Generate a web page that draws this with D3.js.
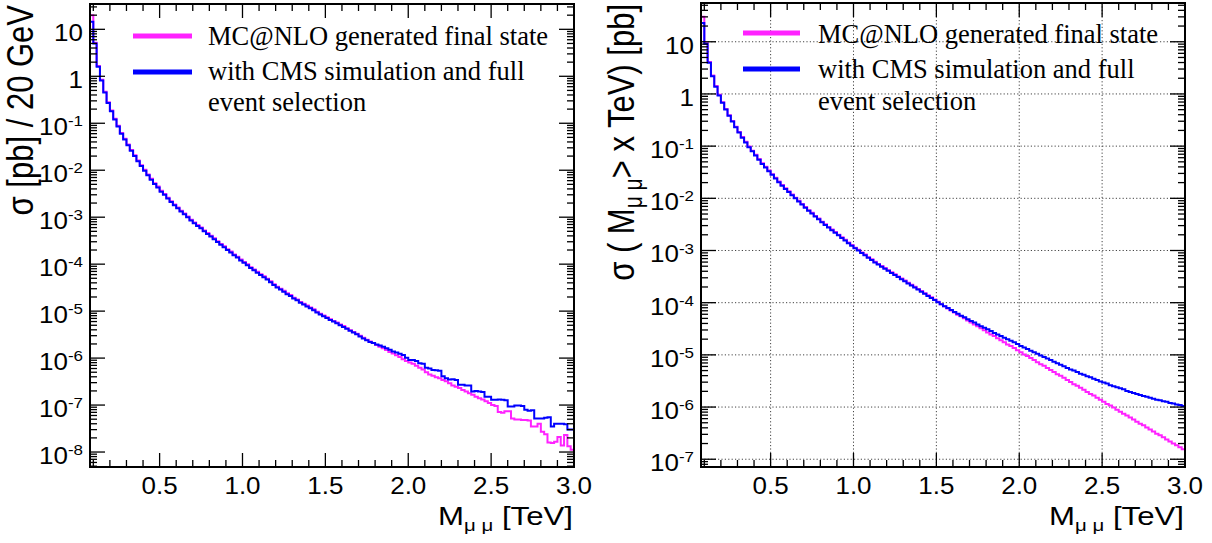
<!DOCTYPE html>
<html>
<head>
<meta charset="utf-8">
<script src="https://cdn.jsdelivr.net/npm/d3@7"></script>
<style>
  body { margin: 0; background: #fff; }
  svg { display: block; }
</style>
</head>
<body>
<svg id="chart" width="1212" height="543"></svg>
<script>
// Dimuon invariant mass, 20 GeV bins from 0.08 to 3.00 TeV
const massEdgesTeV = d3.range(147).map(i => +(0.08 + 0.02 * i).toFixed(2));

const xTickValues = [0.5, 1.0, 1.5, 2.0, 2.5, 3.0];
const xTickLabels = ["0.5", "1.0", "1.5", "2.0", "2.5", "3.0"];

const leftDecades = [-8, -7, -6, -5, -4, -3, -2, -1, 0, 1];
const rightDecades = [-7, -6, -5, -4, -3, -2, -1, 0, 1];

const legendLabels = ["MC@NLO generated final state", "with CMS simulation and full", "event selection"];

// dσ/dM per 20 GeV bin [pb] — MC@NLO generated final state
const diffGenerated = [
  20, 5.2, 1.66, 0.84, 0.47, 0.28, 0.187, 0.125, 0.088, 0.062,
  0.047, 0.0354, 0.027, 0.0208, 0.0161, 0.0128, 0.0102, 0.0081, 0.0066, 0.0053,
  0.0045, 0.00364, 0.00312, 0.0026, 0.00218, 0.00187, 0.00161, 0.00137, 0.0012, 1.04e-3,
  8.8e-4, 7.7e-4, 6.8e-4, 6.0e-4, 5.2e-4, 4.6e-4, 4.05e-4, 3.54e-4, 3.07e-4, 2.7e-4,
  2.4e-4, 2.08e-4, 1.85e-4, 1.61e-4, 1.44e-4, 1.25e-4, 1.11e-4, 9.9e-5, 8.6e-5, 7.7e-5,
  6.9e-5, 6.1e-5, 5.5e-5, 4.9e-5, 4.3e-5, 3.75e-5, 3.3e-5, 3.0e-5, 2.7e-5, 2.4e-5,
  2.2e-5, 1.93e-5, 1.77e-5, 1.56e-5, 1.43e-5, 1.31e-5, 1.2e-5, 1.09e-5, 9.7e-6, 8.8e-6,
  8.1e-6, 7.4e-6, 6.7e-6, 6.2e-6, 5.7e-6, 5.2e-6, 4.8e-6, 4.3e-6, 3.9e-6, 3.6e-6,
  3.3e-6, 3.0e-6, 2.7e-6, 2.45e-6, 2.25e-6, 2.1e-6, 1.9e-6, 1.74e-6, 1.62e-6, 1.48e-6,
  1.35e-6, 1.26e-6, 1.15e-6, 1.05e-6, 9.5e-7, 8.7e-7, 8.1e-7, 7.6e-7, 6.9e-7, 6.2e-7,
  5.75e-7, 5.0e-7, 4.5e-7, 4.2e-7, 3.9e-7, 3.7e-7, 3.4e-7, 3.2e-7, 2.9e-7, 2.6e-7,
  2.45e-7, 2.3e-7, 2.1e-7, 1.95e-7, 1.78e-7, 1.66e-7, 1.5e-7, 1.4e-7, 1.32e-7, 1.2e-7,
  1.1e-7, 1.0e-7, 9.5e-8, 7.1e-8, 6.9e-8, 7.4e-8, 7.4e-8, 5.2e-8, 4.9e-8, 4.9e-8,
  4.8e-8, 4.8e-8, 4.7e-8, 3.5e-8, 3.5e-8, 4.0e-8, 2.7e-8, 2.4e-8, 1.6e-8, 1.55e-8,
  1.66e-8, 2.1e-8, 1.38e-8, 2.3e-8, 1.32e-8, 1.12e-8
];

// dσ/dM per 20 GeV bin [pb] — after CMS simulation and full event selection
const diffSelected = [
  14.5, 5.0, 1.6, 0.81, 0.45, 0.27, 0.18, 0.12, 0.085, 0.060,
  0.045, 0.034, 0.026, 0.020, 0.0155, 0.0123, 0.0098, 0.0078, 0.0063, 0.0051,
  0.0043, 0.0035, 0.0030, 0.0025, 0.0021, 0.0018, 0.00155, 0.00132, 0.00115, 1.0e-3,
  8.5e-4, 7.4e-4, 6.5e-4, 5.8e-4, 5.0e-4, 4.4e-4, 3.9e-4, 3.4e-4, 2.95e-4, 2.6e-4,
  2.3e-4, 2.0e-4, 1.78e-4, 1.55e-4, 1.38e-4, 1.2e-4, 1.07e-4, 9.5e-5, 8.3e-5, 7.4e-5,
  6.6e-5, 5.9e-5, 5.25e-5, 4.7e-5, 4.1e-5, 3.6e-5, 3.2e-5, 2.9e-5, 2.6e-5, 2.3e-5,
  2.1e-5, 1.86e-5, 1.7e-5, 1.5e-5, 1.38e-5, 1.26e-5, 1.15e-5, 1.05e-5, 9.3e-6, 8.5e-6,
  7.8e-6, 7.1e-6, 6.5e-6, 6.0e-6, 5.5e-6, 5.0e-6, 4.6e-6, 4.2e-6, 3.8e-6, 3.5e-6,
  3.2e-6, 2.9e-6, 2.6e-6, 2.4e-6, 2.2e-6, 2.1e-6, 1.95e-6, 1.86e-6, 1.74e-6, 1.62e-6,
  1.51e-6, 1.38e-6, 1.32e-6, 1.23e-6, 1.17e-6, 1.02e-6, 9.1e-7, 9.1e-7, 8.7e-7, 7.8e-7,
  7.6e-7, 6.2e-7, 6.0e-7, 5.6e-7, 5.5e-7, 5.4e-7, 4.1e-7, 3.7e-7, 3.5e-7, 3.55e-7,
  3.4e-7, 2.7e-7, 2.7e-7, 2.6e-7, 2.6e-7, 1.95e-7, 2.0e-7, 1.95e-7, 1.9e-7, 1.5e-7,
  1.5e-7, 1.3e-7, 1.3e-7, 1.32e-7, 1.3e-7, 1.26e-7, 9.3e-8, 9.3e-8, 9.8e-8, 9.8e-8,
  9.5e-8, 7.9e-8, 7.6e-8, 7.8e-8, 5.2e-8, 5.2e-8, 5.2e-8, 5.4e-8, 5.5e-8, 3.5e-8,
  4.0e-8, 4.0e-8, 4.0e-8, 3.9e-8, 3.0e-8, 3.0e-8
];

// σ(M > x) [pb] — MC@NLO generated final state
const cumGenerated = [
  30.2, 9.39, 4.10, 2.26, 1.42, 0.961, 0.696, 0.516, 0.391, 0.304,
  0.236, 0.187, 0.149, 0.121, 0.0984, 0.0818, 0.0681, 0.0567, 0.0471, 0.0401,
  0.0341, 0.0290, 0.0247, 0.0210, 0.0179, 0.0156, 0.0136, 0.0118, 0.0103, 8.97e-3,
  7.82e-3, 6.81e-3, 5.92e-3, 5.28e-3, 4.60e-3, 4.10e-3, 3.57e-3, 3.18e-3, 2.83e-3, 2.52e-3,
  2.26e-3, 2.01e-3, 1.79e-3, 1.60e-3, 1.42e-3, 1.27e-3, 1.13e-3, 1.03e-3, 9.18e-4, 8.37e-4,
  7.46e-4, 6.81e-4, 6.07e-4, 5.53e-4, 5.05e-4, 4.60e-4, 4.19e-4, 3.83e-4, 3.49e-4, 3.18e-4,
  2.90e-4, 2.65e-4, 2.41e-4, 2.20e-4, 2.01e-4, 1.83e-4, 1.67e-4, 1.52e-4, 1.39e-4, 1.27e-4,
  1.15e-4, 1.04e-4, 9.33e-5, 8.51e-5, 7.76e-5, 7.08e-5, 6.46e-5, 5.89e-5, 5.50e-5, 5.01e-5,
  4.57e-5, 4.17e-5, 3.80e-5, 3.55e-5, 3.24e-5, 2.95e-5, 2.69e-5, 2.45e-5, 2.29e-5, 2.09e-5,
  1.91e-5, 1.74e-5, 1.58e-5, 1.48e-5, 1.35e-5, 1.23e-5, 1.12e-5, 1.02e-5, 9.55e-6, 8.71e-6,
  7.94e-6, 7.24e-6, 6.61e-6, 6.17e-6, 5.62e-6, 5.13e-6, 4.68e-6, 4.27e-6, 3.98e-6, 3.63e-6,
  3.31e-6, 3.02e-6, 2.75e-6, 2.57e-6, 2.34e-6, 2.14e-6, 1.95e-6, 1.78e-6, 1.66e-6, 1.51e-6,
  1.38e-6, 1.26e-6, 1.15e-6, 1.07e-6, 9.77e-7, 8.91e-7, 8.13e-7, 7.41e-7, 6.92e-7, 6.31e-7,
  5.75e-7, 5.25e-7, 4.79e-7, 4.47e-7, 4.07e-7, 3.72e-7, 3.39e-7, 3.09e-7, 2.88e-7, 2.63e-7,
  2.40e-7, 2.19e-7, 2.00e-7, 1.86e-7, 1.70e-7, 1.55e-7
];

// σ(M > x) [pb] — after CMS simulation and full event selection
const cumSelected = [
  22.9, 9.12, 3.98, 2.19, 1.38, 0.933, 0.676, 0.501, 0.380, 0.295,
  0.229, 0.182, 0.145, 0.117, 0.0955, 0.0794, 0.0661, 0.0550, 0.0457, 0.0389,
  0.0331, 0.0282, 0.0240, 0.0204, 0.0174, 0.0151, 0.0132, 0.0115, 0.0100, 8.71e-3,
  7.59e-3, 6.61e-3, 5.75e-3, 5.13e-3, 4.47e-3, 3.98e-3, 3.47e-3, 3.09e-3, 2.75e-3, 2.45e-3,
  2.19e-3, 1.95e-3, 1.74e-3, 1.55e-3, 1.38e-3, 1.23e-3, 1.10e-3, 1.00e-3, 8.91e-4, 8.13e-4,
  7.24e-4, 6.61e-4, 5.89e-4, 5.37e-4, 4.90e-4, 4.47e-4, 4.07e-4, 3.72e-4, 3.39e-4, 3.09e-4,
  2.82e-4, 2.57e-4, 2.34e-4, 2.14e-4, 1.95e-4, 1.78e-4, 1.62e-4, 1.48e-4, 1.35e-4, 1.23e-4,
  1.12e-4, 1.02e-4, 9.33e-5, 8.51e-5, 7.94e-5, 7.24e-5, 6.61e-5, 6.17e-5, 5.62e-5, 5.25e-5,
  4.79e-5, 4.47e-5, 4.17e-5, 3.80e-5, 3.55e-5, 3.31e-5, 3.09e-5, 2.88e-5, 2.63e-5, 2.45e-5,
  2.29e-5, 2.14e-5, 2.00e-5, 1.86e-5, 1.74e-5, 1.62e-5, 1.48e-5, 1.38e-5, 1.29e-5, 1.20e-5,
  1.12e-5, 1.05e-5, 9.77e-6, 9.12e-6, 8.51e-6, 7.94e-6, 7.41e-6, 6.92e-6, 6.46e-6, 6.03e-6,
  5.62e-6, 5.25e-6, 5.01e-6, 4.68e-6, 4.37e-6, 4.17e-6, 3.89e-6, 3.72e-6, 3.47e-6, 3.31e-6,
  3.09e-6, 2.95e-6, 2.82e-6, 2.63e-6, 2.51e-6, 2.40e-6, 2.29e-6, 2.19e-6, 2.04e-6, 1.95e-6,
  1.86e-6, 1.78e-6, 1.70e-6, 1.62e-6, 1.58e-6, 1.51e-6, 1.45e-6, 1.38e-6, 1.35e-6, 1.29e-6,
  1.26e-6, 1.20e-6, 1.17e-6, 1.12e-6, 1.10e-6, 1.05e-6
];

const COLOR_GEN = "#ff22ff";
const COLOR_SEL = "#0000ff";
const SANS = "'Liberation Sans', Arial, Helvetica, sans-serif";
const SERIF = "'Liberation Serif', 'Times New Roman', serif";
const STRETCH = 1.13;   // horizontal widening of the axis lettering

const svg = d3.select("#chart");

const panels = [
  {
    key: "diff",
    box: { left: 90, right: 574, top: 4, bottom: 467 },
    yDomain: [4.8e-9, 34.6],
    decades: leftDecades,
    series: [diffGenerated, diffSelected],
    grid: false,
    titleX: 33,
    legend: { x1: 133, x2: 192, lineY: [36, 72], textX: 208, baselines: [45, 80, 111] },
    yTitle: [{ t: "σ [pb] / 20 GeV" }]
  },
  {
    key: "cum",
    box: { left: 701, right: 1185, top: 3, bottom: 467 },
    yDomain: [7.1e-8, 55.3],
    decades: rightDecades,
    series: [cumGenerated, cumSelected],
    grid: true,
    titleX: 634,
    legend: { x1: 743, x2: 800, lineY: [33, 69], textX: 818, baselines: [43, 78, 110] },
    yTitle: [{ t: "σ ( M" }, { t: "μ μ", sub: true }, { t: "> x TeV) [pb]" }]
  }
];

panels.forEach(p => {
  const b = p.box;
  const g = svg.append("g").attr("class", "panel-" + p.key);

  const x = d3.scaleLinear().domain([0.08, 3.0]).range([b.left, b.right]);
  const y = d3.scaleLog().domain(p.yDomain).range([b.bottom, b.top]);

  const clipId = "clip-" + p.key;
  g.append("clipPath").attr("id", clipId)
    .append("rect")
    .attr("x", b.left).attr("y", b.top)
    .attr("width", b.right - b.left).attr("height", b.bottom - b.top);

  // dotted grid at the labelled ticks
  if (p.grid) {
    const grid = g.append("g").attr("stroke", "#444").attr("stroke-width", 1)
      .attr("stroke-dasharray", "1.2 2.2");
    xTickValues.filter(v => v < 3.0).forEach(v => {
      grid.append("line").attr("x1", x(v)).attr("x2", x(v))
        .attr("y1", b.top).attr("y2", b.bottom);
    });
    p.decades.forEach(e => {
      const yy = y(Math.pow(10, e));
      grid.append("line").attr("x1", b.left).attr("x2", b.right)
        .attr("y1", yy).attr("y2", yy);
    });
  }

  // histograms as step outlines
  const line = d3.line()
    .x(d => x(d[0]))
    .y(d => y(d[1]))
    .curve(d3.curveStepAfter);
  const colors = [COLOR_GEN, COLOR_SEL];
  p.series.forEach((vals, si) => {
    const pts = massEdgesTeV.map((e, i) => [e, vals[Math.min(i, vals.length - 1)]]);
    g.append("path")
      .attr("clip-path", `url(#${clipId})`)
      .attr("d", line(pts))
      .attr("fill", "none")
      .attr("stroke", colors[si])
      .attr("stroke-width", 2)
      .attr("stroke-linejoin", "miter");
  });

  // frame
  g.append("rect")
    .attr("x", b.left).attr("y", b.top)
    .attr("width", b.right - b.left).attr("height", b.bottom - b.top)
    .attr("fill", "none").attr("stroke", "#000").attr("stroke-width", 2);

  // ticks on all four sides, pointing inward
  const ticks = g.append("g").attr("stroke", "#000").attr("stroke-width", 1.3);
  const majorLen = 14, minorLen = 7;
  d3.range(1, 30).map(k => k / 10).forEach(v => {
    const isMajor = xTickValues.some(t => Math.abs(t - v) < 1e-6);
    const len = isMajor ? majorLen : minorLen;
    const xx = x(v);
    ticks.append("line").attr("x1", xx).attr("x2", xx).attr("y1", b.bottom).attr("y2", b.bottom - len);
    ticks.append("line").attr("x1", xx).attr("x2", xx).attr("y1", b.top).attr("y2", b.top + len);
  });
  const [yLo, yHi] = p.yDomain;
  for (let e = Math.floor(Math.log10(yLo)); e <= Math.ceil(Math.log10(yHi)); e++) {
    for (let k = 1; k <= 9; k++) {
      const v = k * Math.pow(10, e);
      if (v < yLo || v > yHi) continue;
      const len = k === 1 ? majorLen + 1 : minorLen;
      const yy = y(v);
      ticks.append("line").attr("x1", b.left).attr("x2", b.left + len).attr("y1", yy).attr("y2", yy);
      ticks.append("line").attr("x1", b.right).attr("x2", b.right - len).attr("y1", yy).attr("y2", yy);
    }
  }

  // x tick labels
  xTickValues.forEach((v, i) => {
    g.append("text")
      .attr("transform", `translate(${x(v)},494) scale(${STRETCH},1)`)
      .attr("text-anchor", "middle")
      .attr("font-family", SANS).attr("font-size", 23)
      .attr("fill", "#000")
      .text(xTickLabels[i]);
  });

  // y decade labels, right-aligned against the axis by measured width
  p.decades.forEach(e => {
    const yy = y(Math.pow(10, e));
    const t = g.append("text")
      .attr("text-anchor", "start")
      .attr("font-family", SANS).attr("font-size", 23)
      .attr("fill", "#000");
    if (e === 0) t.append("tspan").text("1");
    else if (e === 1) t.append("tspan").text("10");
    else {
      t.append("tspan").text("10");
      t.append("tspan").attr("dy", -9).attr("font-size", 15).text("-" + Math.abs(e));
    }
    const w = t.node().getComputedTextLength();
    t.attr("transform", `translate(${b.left - 7 - w * STRETCH},${yy + 12}) scale(${STRETCH},1)`);
  });

  // x axis title
  const xt = g.append("text")
    .attr("transform", `translate(${b.right - 1},525) scale(1.2,1)`)
    .attr("text-anchor", "end")
    .attr("font-family", SANS).attr("font-size", 26).attr("fill", "#000");
  xt.append("tspan").text("M");
  xt.append("tspan").attr("font-size", 17).attr("dy", 6).text("μ μ");
  xt.append("tspan").attr("dy", -6).text("\u00a0[TeV]");

  // y axis title
  const yt = g.append("text")
    .attr("transform", `translate(${p.titleX},${b.top + 1}) scale(1.2,1) rotate(-90)`)
    .attr("text-anchor", "end")
    .attr("font-family", SANS).attr("font-size", 31).attr("fill", "#000");
  p.yTitle.forEach(part => {
    if (part.sub) {
      yt.append("tspan").attr("font-size", 21).attr("dy", 7).text(part.t);
    } else {
      const ts = yt.append("tspan").text(part.t);
      if (part.t.startsWith(">")) ts.attr("dy", -7);
    }
  });

  // legend (transparent, no border)
  const lg = g.append("g");
  [COLOR_GEN, COLOR_SEL].forEach((c, i) => {
    lg.append("line")
      .attr("x1", p.legend.x1).attr("x2", p.legend.x2)
      .attr("y1", p.legend.lineY[i]).attr("y2", p.legend.lineY[i])
      .attr("stroke", c).attr("stroke-width", 5);
  });
  legendLabels.forEach((txt, i) => {
    lg.append("text")
      .attr("x", p.legend.textX).attr("y", p.legend.baselines[i])
      .attr("font-family", SERIF).attr("font-size", 26.5).attr("fill", "#000")
      .text(txt);
  });
});
</script>
</body>
</html>
